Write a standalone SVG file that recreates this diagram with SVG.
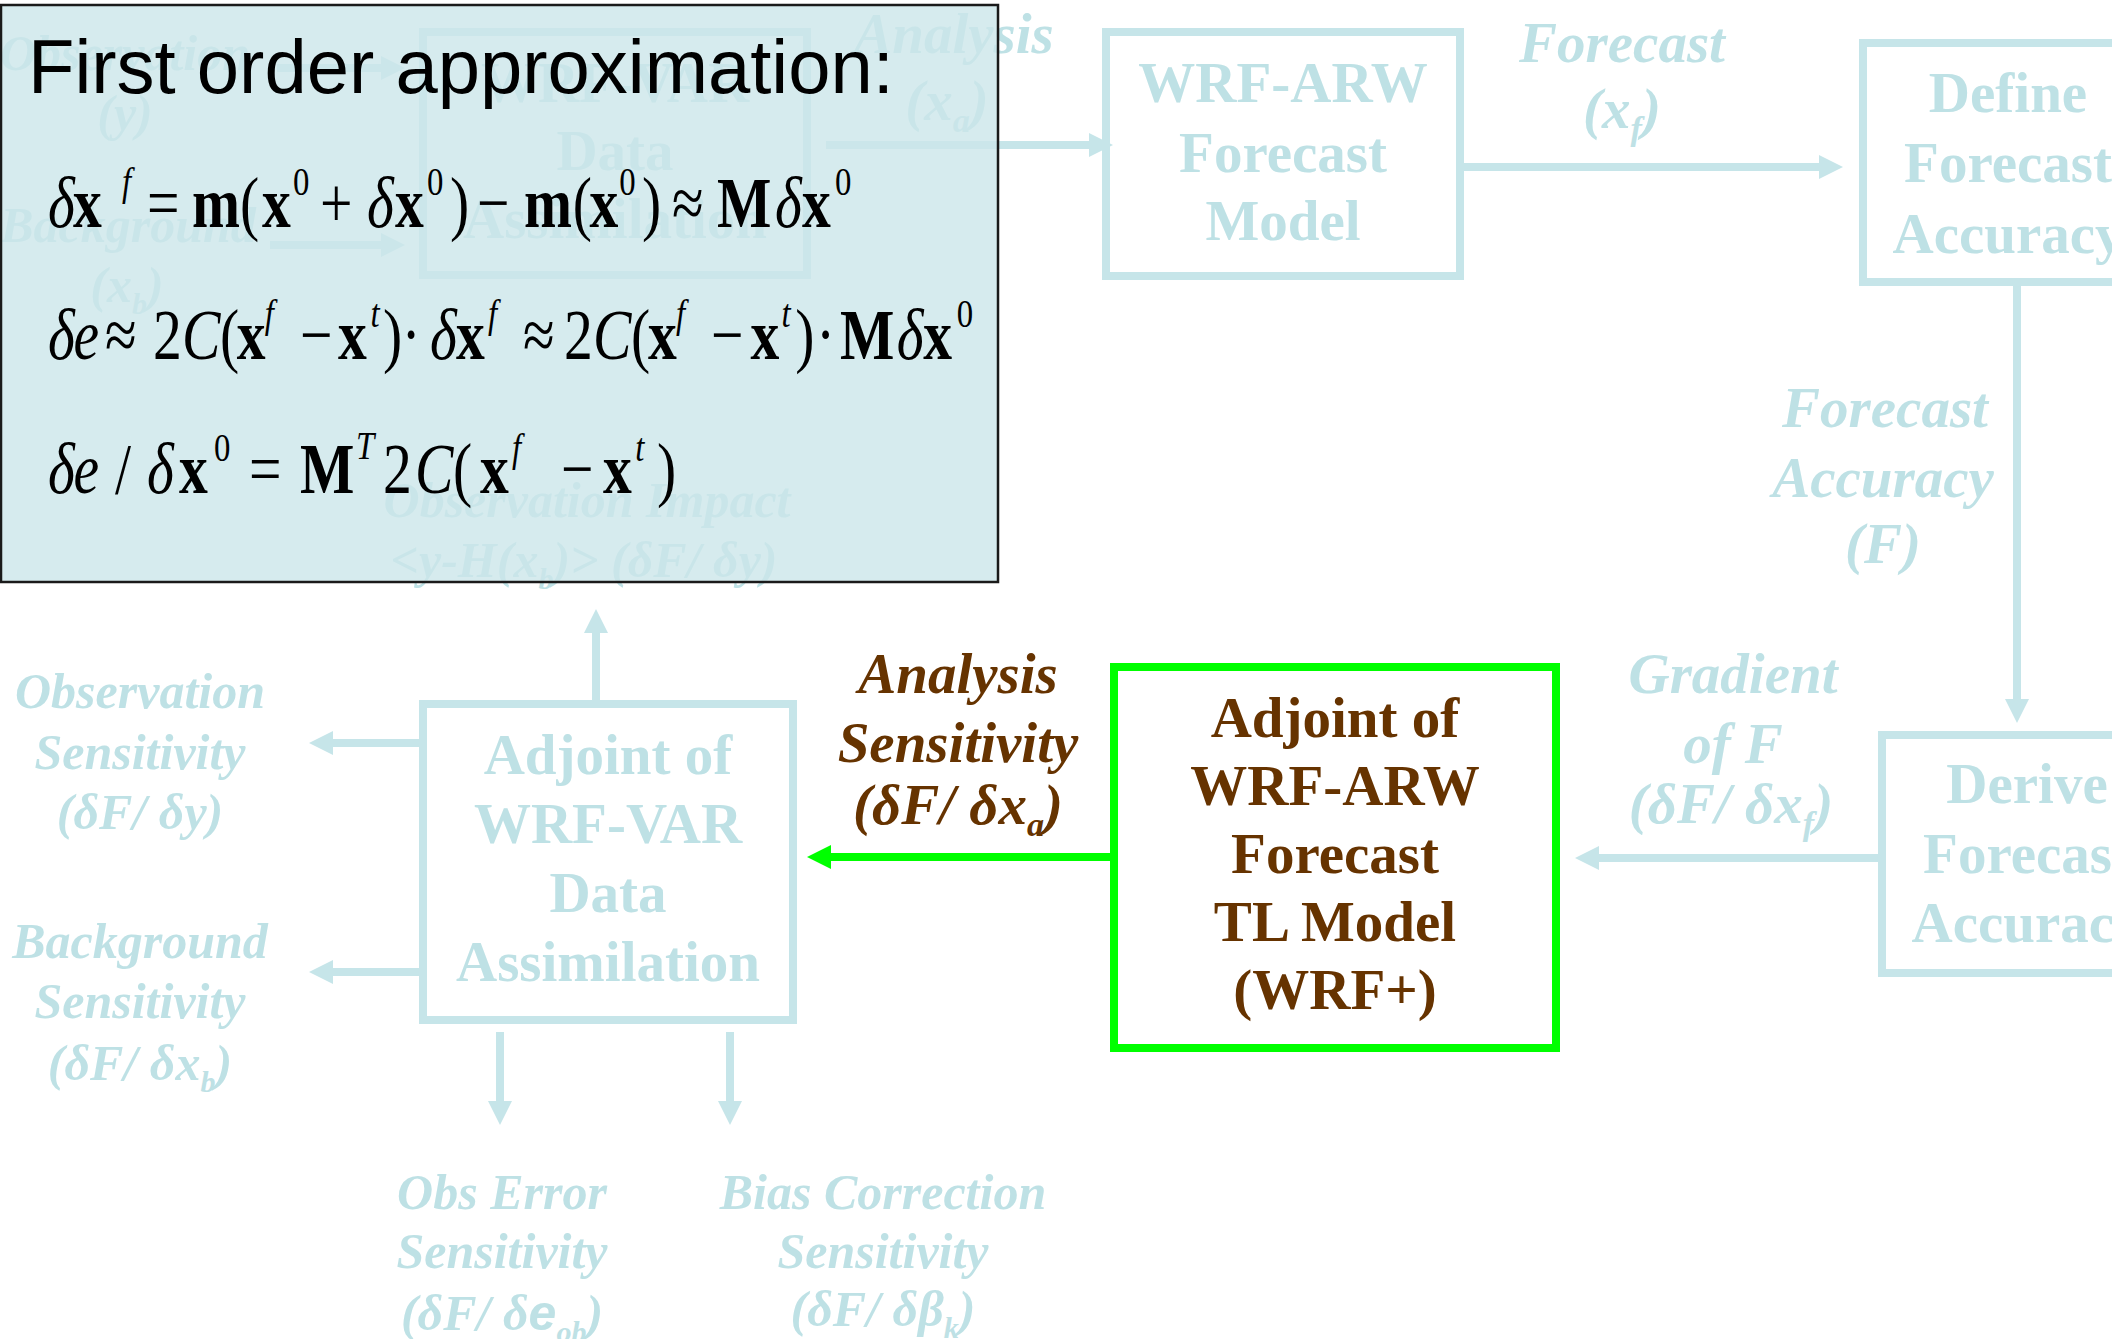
<svg xmlns="http://www.w3.org/2000/svg" width="2112" height="1339" viewBox="0 0 2112 1339">
  <style>
    .box { fill: none; stroke: #c6e5e9; stroke-width: 8; }
    .hot { fill: none; stroke: #00ff00; stroke-width: 8; }
    .ln { fill: none; stroke: #c6e5e9; stroke-width: 8; }
    .ln-hot { fill: none; stroke: #00ff00; stroke-width: 8; }
    .nt { font-family: "Liberation Serif", "Times New Roman", serif; font-weight: bold; font-size: 57px; text-anchor: middle; fill: #bee1e5; }
    .nt-hot { fill: #663300; }
    .lb { font-family: "Liberation Serif", "Times New Roman", serif; font-weight: bold; font-style: italic; text-anchor: middle; fill: #bee1e5; }
    .lb-l { font-size: 57px; }
    .lb-s { font-size: 50px; }
    .lb-hot { fill: #663300; }
    .sub { font-size: 60%; }
    .eq { font-family: "Liberation Serif", "Times New Roman", serif; font-size: 72px; fill: #000; }
    .b { font-weight: bold; }
    .i { font-style: italic; }
    .sup { font-size: 41px; }
    .title { font-family: "Liberation Sans", Arial, sans-serif; font-size: 76px; fill: #000; }
  </style>
  <defs>
    <marker id="head" markerUnits="userSpaceOnUse" markerWidth="24" markerHeight="24" viewBox="0 0 24 24" refX="10" refY="12" orient="auto">
      <path d="M0,0 L24,12 L0,24 z" fill="#c6e5e9"/>
    </marker>
    <marker id="head-hot" markerUnits="userSpaceOnUse" markerWidth="24" markerHeight="24" viewBox="0 0 24 24" refX="10" refY="12" orient="auto">
      <path d="M0,0 L24,12 L0,24 z" fill="#00ff00"/>
    </marker>
  </defs>

  <rect width="2112" height="1339" fill="#fff"/>

  <!-- nodes -->
  <g id="wrfvar-da">
    <rect class="box" x="423" y="32" width="384" height="243"/>
    <text class="nt" x="615" y="102">WRF-VAR</text>
    <text class="nt" x="615" y="170">Data</text>
    <text class="nt" x="615" y="238">Assimilation</text>
  </g>
  <g id="wrfarw-model">
    <rect class="box" x="1106" y="32" width="354" height="244"/>
    <text class="nt" x="1283" y="102">WRF-ARW</text>
    <text class="nt" x="1283" y="172">Forecast</text>
    <text class="nt" x="1283" y="240">Model</text>
  </g>
  <g id="define-accuracy">
    <rect class="box" x="1863" y="43" width="320" height="239"/>
    <text class="nt" x="2008" y="112">Define</text>
    <text class="nt" x="2008" y="182">Forecast</text>
    <text class="nt" x="2008" y="253">Accuracy</text>
  </g>
  <g id="derive-accuracy">
    <rect class="box" x="1882" y="735" width="320" height="238"/>
    <text class="nt" x="2027" y="803">Derive</text>
    <text class="nt" x="2027" y="873">Forecast</text>
    <text class="nt" x="2027" y="942">Accuracy</text>
  </g>
  <g id="adjoint-wrfarw">
    <rect class="hot" x="1114" y="667" width="442" height="381"/>
    <text class="nt nt-hot" x="1335" y="737">Adjoint of</text>
    <text class="nt nt-hot" x="1335" y="805">WRF-ARW</text>
    <text class="nt nt-hot" x="1335" y="873">Forecast</text>
    <text class="nt nt-hot" x="1335" y="941">TL Model</text>
    <text class="nt nt-hot" x="1335" y="1009">(WRF+)</text>
  </g>
  <g id="adjoint-wrfvar">
    <rect class="box" x="423" y="704" width="370" height="316"/>
    <text class="nt" x="608" y="774">Adjoint of</text>
    <text class="nt" x="608" y="843">WRF-VAR</text>
    <text class="nt" x="608" y="912">Data</text>
    <text class="nt" x="608" y="981">Assimilation</text>
  </g>

  <!-- connectors -->
  <g id="connectors">
    <line class="ln" x1="277" y1="68" x2="391" y2="68" marker-end="url(#head)"/>
    <line class="ln" x1="270" y1="245" x2="391" y2="245" marker-end="url(#head)"/>
    <line class="ln" x1="826" y1="145" x2="1099" y2="145" marker-end="url(#head)"/>
    <line class="ln" x1="1464" y1="167" x2="1829" y2="167" marker-end="url(#head)"/>
    <line class="ln" x1="2017" y1="286" x2="2017" y2="709" marker-end="url(#head)"/>
    <line class="ln" x1="1878" y1="858" x2="1589" y2="858" marker-end="url(#head)"/>
    <line class="ln-hot" x1="1110" y1="857" x2="821" y2="857" marker-end="url(#head-hot)"/>
    <line class="ln" x1="596" y1="700" x2="596" y2="623" marker-end="url(#head)"/>
    <line class="ln" x1="419" y1="743" x2="323" y2="743" marker-end="url(#head)"/>
    <line class="ln" x1="419" y1="972" x2="323" y2="972" marker-end="url(#head)"/>
    <line class="ln" x1="500" y1="1032" x2="500" y2="1111" marker-end="url(#head)"/>
    <line class="ln" x1="730" y1="1032" x2="730" y2="1111" marker-end="url(#head)"/>
  </g>

  <!-- quantity labels -->
  <g id="labels">
    <text class="lb lb-s" x="125" y="70">Observation</text>
    <text class="lb lb-s" x="125" y="130">(y)</text>
    <text class="lb lb-s" x="128" y="242">Background</text>
    <text class="lb lb-s" x="127" y="302">(x<tspan class="sub" dy="12">b</tspan><tspan dy="-12">)</tspan></text>
    <text class="lb lb-l" x="954" y="53">Analysis</text>
    <text class="lb lb-l" x="947" y="120">(x<tspan class="sub" dy="12">a</tspan><tspan dy="-12">)</tspan></text>
    <text class="lb lb-l" x="1622" y="62">Forecast</text>
    <text class="lb lb-l" x="1622" y="128">(x<tspan class="sub" dy="12">f</tspan><tspan dy="-12">)</tspan></text>
    <text class="lb lb-l" x="1885" y="427">Forecast</text>
    <text class="lb lb-l" x="1883" y="497">Accuracy</text>
    <text class="lb lb-l" x="1883" y="563">(F)</text>
    <text class="lb lb-l" x="1733" y="693">Gradient</text>
    <text class="lb lb-l" x="1733" y="763">of F</text>
    <text class="lb lb-l" x="1731" y="823">(δF/ δx<tspan class="sub" dy="12">f</tspan><tspan dy="-12">)</tspan></text>
    <text class="lb lb-l lb-hot" x="958" y="693">Analysis</text>
    <text class="lb lb-l lb-hot" x="958" y="762">Sensitivity</text>
    <text class="lb lb-l lb-hot" x="958" y="824">(δF/ δx<tspan class="sub" dy="12">a</tspan><tspan dy="-12">)</tspan></text>
    <text class="lb lb-s" x="140" y="708">Observation</text>
    <text class="lb lb-s" x="140" y="769">Sensitivity</text>
    <text class="lb lb-s" x="140" y="829">(δF/ δy)</text>
    <text class="lb lb-s" x="140" y="958">Background</text>
    <text class="lb lb-s" x="140" y="1018">Sensitivity</text>
    <text class="lb lb-s" x="140" y="1080">(δF/ δx<tspan class="sub" dy="12">b</tspan><tspan dy="-12">)</tspan></text>
    <text class="lb lb-s" x="502" y="1209">Obs Error</text>
    <text class="lb lb-s" x="502" y="1268">Sensitivity</text>
    <text class="lb lb-s" x="502" y="1330">(δF/ δ<tspan font-family="Liberation Sans, Arial, sans-serif">e</tspan><tspan class="sub" dy="12">ob</tspan><tspan dy="-12">)</tspan></text>
    <text class="lb lb-s" x="883" y="1209">Bias Correction</text>
    <text class="lb lb-s" x="883" y="1268">Sensitivity</text>
    <text class="lb lb-s" x="883" y="1326">(δF/ δβ<tspan class="sub" dy="12">k</tspan><tspan dy="-12">)</tspan></text>
    <text class="lb lb-s" x="587" y="517">Observation Impact</text>
    <text class="lb lb-s" x="584" y="577">&lt;y-H(x<tspan class="sub" dy="12">b</tspan><tspan dy="-12">)&gt; (δF/ δy)</tspan></text>
  </g>

  <!-- first order approximation panel -->
  <g id="approx-panel">
    <rect x="1" y="5" width="997" height="577" fill="#cce6ea" fill-opacity="0.8" stroke="#1a1a1a" stroke-width="2.5"/>
    <text class="title" x="28" y="93">First order approximation:</text>

    <text class="eq" transform="translate(0,227) scale(0.8,1)"><tspan class="i" x="60" y="0">δ</tspan><tspan class="b" x="91.25" y="0">x</tspan><tspan class="sup i" x="152.5" y="-32">f</tspan><tspan x="183.75" y="0">=</tspan><tspan class="b" x="240" y="0">m</tspan><tspan x="300" y="0">(</tspan><tspan class="b" x="327.5" y="0">x</tspan><tspan class="sup" x="366.25" y="-32">0</tspan><tspan x="400" y="0">+</tspan><tspan class="i" x="458.75" y="0">δ</tspan><tspan class="b" x="493.75" y="0">x</tspan><tspan class="sup" x="533.75" y="-32">0</tspan><tspan x="562.5" y="0">)</tspan><tspan x="596.25" y="0">−</tspan><tspan class="b" x="655" y="0">m</tspan><tspan x="716" y="0">(</tspan><tspan class="b" x="737" y="0">x</tspan><tspan class="sup" x="774" y="-32">0</tspan><tspan x="802.5" y="0">)</tspan><tspan x="840" y="0">≈</tspan><tspan class="b" x="896.25" y="0">M</tspan><tspan class="i" x="968.75" y="0">δ</tspan><tspan class="b" x="1002.5" y="0">x</tspan><tspan class="sup" x="1043.75" y="-32">0</tspan></text>

    <text class="eq" transform="translate(0,359) scale(0.8,1)"><tspan class="i" x="60" y="0">δ</tspan><tspan class="i" x="92" y="0">e</tspan><tspan x="131.25" y="0">≈</tspan><tspan x="191.25" y="0">2</tspan><tspan class="i" x="227.5" y="0">C</tspan><tspan x="275" y="0">(</tspan><tspan class="b" x="296" y="0">x</tspan><tspan class="sup i" x="331" y="-32">f</tspan><tspan x="375" y="0">−</tspan><tspan class="b" x="422.5" y="0">x</tspan><tspan class="sup i" x="463" y="-32">t</tspan><tspan x="478.75" y="0">)</tspan><tspan x="502" y="0">·</tspan><tspan class="i" x="537.5" y="0">δ</tspan><tspan class="b" x="570" y="0">x</tspan><tspan class="sup i" x="610" y="-32">f</tspan><tspan x="653.75" y="0">≈</tspan><tspan x="705" y="0">2</tspan><tspan class="i" x="741.25" y="0">C</tspan><tspan x="788.75" y="0">(</tspan><tspan class="b" x="810" y="0">x</tspan><tspan class="sup i" x="845" y="-32">f</tspan><tspan x="888.75" y="0">−</tspan><tspan class="b" x="938" y="0">x</tspan><tspan class="sup i" x="977" y="-32">t</tspan><tspan x="994" y="0">)</tspan><tspan x="1020" y="0">·</tspan><tspan class="b" x="1050" y="0">M</tspan><tspan class="i" x="1121" y="0">δ</tspan><tspan class="b" x="1154" y="0">x</tspan><tspan class="sup" x="1196" y="-32">0</tspan></text>

    <text class="eq" transform="translate(0,493) scale(0.8,1)"><tspan class="i" x="60" y="0">δ</tspan><tspan class="i" x="92" y="0">e</tspan><tspan x="143.75" y="0">/</tspan><tspan class="i" x="183.75" y="0">δ</tspan><tspan class="b" x="223.75" y="0">x</tspan><tspan class="sup" x="267.5" y="-32">0</tspan><tspan x="311.25" y="0">=</tspan><tspan class="b" x="375" y="0">M</tspan><tspan class="sup i" x="445" y="-34">T</tspan><tspan x="478.75" y="0">2</tspan><tspan class="i" x="518.75" y="0">C</tspan><tspan x="566.25" y="0">(</tspan><tspan class="b" x="600" y="0">x</tspan><tspan class="sup i" x="640" y="-32">f</tspan><tspan x="701.25" y="0">−</tspan><tspan class="b" x="753.75" y="0">x</tspan><tspan class="sup i" x="794" y="-32">t</tspan><tspan x="821.25" y="0">)</tspan></text>
  </g>
</svg>
